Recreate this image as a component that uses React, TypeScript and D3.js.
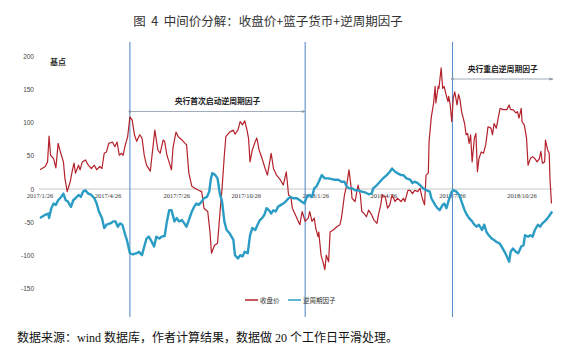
import * as d3 from 'd3';
import React, { useEffect, useRef } from 'react';

const width = 563;
const height = 353;

// days since 2017/1/26, basis points
const startDate = new Date(2017, 0, 26);

const closeSeries: [number, number][] = [
  [0, 29], [7, 34], [10, 41], [12, 80], [14, 51], [18, 46], [21, 32], [24, 69], [27, 56], [31, 41],
  [33, 16], [36, -4], [40, 11], [43, 29], [45, 39], [47, 24], [51, 36], [53, 29], [56, 41], [60, 44],
  [64, 36], [68, 31], [72, 36], [75, 29], [79, 34], [82, 31], [85, 54], [88, 56], [91, 69], [96, 71],
  [99, 64], [102, 71], [105, 51], [108, 54], [110, 51], [113, 67], [116, 79], [119, 109], [122, 104],
  [125, 82], [128, 72], [132, 82], [135, 77], [138, 51], [141, 36], [146, 27], [152, 89], [156, 59],
  [159, 54], [163, 74], [165, 72], [168, 51], [170, 44], [174, 29], [176, 62], [180, 86], [183, 79],
  [188, 74], [192, 69], [194, 67], [197, 24], [201, 4], [205, 1], [210, -2], [214, -4], [217, -29],
  [222, -34], [225, -65], [227, -97], [231, -85], [235, -82], [238, -39], [241, 1], [244, 51], [246, 79],
  [251, 86], [256, 89], [258, 83], [262, 89], [265, 102], [268, 97], [271, 103], [274, 89], [276, 77],
  [278, 41], [281, 59], [285, 72], [287, 77], [290, 59], [294, 46], [298, 31], [301, 21], [306, 54],
  [309, 31], [313, 21], [318, 14], [322, 6], [326, 26], [329, -9], [332, -12], [334, -29], [338, -39],
  [342, -49], [344, -54], [347, -34], [351, -49], [355, -44], [357, -34], [360, -49], [363, -44],
  [365, -59], [368, -72], [369, -65], [372, -100], [375, -112], [377, -122], [379, -100], [382, -110],
  [384, -65], [388, -62], [393, -57], [397, -54], [399, -44], [403, -9], [406, 6], [409, 29], [412, 1],
  [413, -14], [417, -19], [421, 6], [424, -9], [426, -34], [429, -37], [432, -42], [435, -32], [439, -39],
  [442, -47], [446, -52], [448, -39], [451, -24], [453, -9], [457, -12], [460, -29], [463, -24], [466, -9],
  [470, -19], [473, -14], [478, -19], [481, -14], [483, -19], [487, -2], [490, -2], [493, -7], [496, -2],
  [500, -4], [503, 1], [506, -14], [509, -24], [511, 21], [514, 24], [515, 72], [518, 109], [521, 130],
  [523, 155], [524, 130], [527, 155], [528, 152], [531, 183], [533, 152], [535, 155], [537, 145],
  [540, 132], [541, 140], [543, 127], [545, 102], [547, 137], [549, 147], [552, 127], [554, 143],
  [556, 135], [558, 117], [562, 99], [564, 82], [566, 84], [568, 69], [570, 82], [572, 41], [575, 77],
  [577, 84], [579, 26], [581, 46], [584, 56], [587, 54], [590, 67], [593, 94], [597, 92], [599, 82],
  [601, 99], [604, 92], [606, 104], [609, 122], [613, 120], [618, 120], [621, 127], [623, 120], [626, 120],
  [630, 115], [632, 117], [634, 107], [637, 122], [638, 102], [641, 97], [644, 77], [646, 36], [649, 46],
  [652, 49], [655, 46], [658, 41], [661, 46], [663, 57], [665, 39], [668, 41], [669, 74], [672, 59],
  [674, 54], [675, 16], [677, -22],
];

const counterSeries: [number, number][] = [
  [0, -44], [7, -39], [11, -37], [12, -44], [15, -29], [18, -22], [21, -24], [24, -17], [28, -12], [31, -7],
  [34, -17], [37, -19], [41, -27], [44, -17], [47, -14], [51, -9], [54, -12], [57, -4], [60, -2], [64, -7],
  [68, -9], [72, -14], [75, -22], [78, -34], [82, -44], [85, -59], [88, -54], [93, -52], [97, -49],
  [100, -49], [103, -57], [106, -52], [109, -54], [113, -70], [115, -77], [117, -87], [119, -97],
  [123, -99], [128, -97], [131, -95], [135, -100], [138, -87], [141, -75], [144, -72], [148, -80],
  [151, -87], [154, -72], [158, -75], [161, -72], [165, -71], [168, -49], [171, -32], [174, -32],
  [178, -49], [181, -44], [184, -49], [188, -47], [191, -52], [194, -57], [197, -47], [201, -34],
  [204, -27], [207, -22], [210, -24], [214, -19], [217, -14], [221, -12], [224, -4], [226, 14], [228, 24],
  [232, 21], [235, 16], [238, -7], [241, -19], [244, -49], [247, -62], [251, -67], [256, -77], [258, -100],
  [262, -105], [265, -100], [268, -102], [271, -95], [275, -97], [278, -70], [281, -59], [285, -62],
  [288, -54], [291, -47], [294, -44], [297, -39], [300, -29], [303, -32], [306, -37], [309, -32],
  [312, -34], [315, -27], [319, -24], [322, -22], [325, -19], [329, -14], [332, -12], [335, -14],
  [340, -14], [344, -17], [346, -19], [350, -22], [353, -12], [356, -9], [360, -12], [363, 1], [366, 4],
  [369, 11], [373, 21], [377, 16], [382, 16], [386, 15], [390, 14], [395, 14], [399, 11], [403, 11],
  [406, 4], [409, 1], [413, 1], [417, -2], [421, -2], [426, -4], [430, -5], [435, -8], [439, -7], [441, 1],
  [446, 6], [450, 11], [454, 16], [459, 21], [463, 26], [466, 31], [470, 26], [473, 24], [478, 21],
  [481, 21], [485, 16], [490, 14], [493, 9], [496, 11], [500, 9], [503, 6], [507, 1], [512, -2], [516, -4],
  [518, -14], [523, -24], [526, -29], [529, -32], [533, -24], [535, -22], [538, -29], [541, -17],
  [545, -4], [548, -2], [551, -4], [555, -9], [558, -19], [562, -32], [565, -39], [568, -44], [572, -49],
  [575, -54], [578, -57], [581, -54], [585, -62], [588, -54], [591, -65], [594, -70], [598, -75],
  [601, -77], [604, -80], [608, -82], [611, -87], [615, -95], [618, -102], [621, -110], [623, -95],
  [626, -90], [630, -95], [633, -97], [637, -87], [640, -85], [642, -70], [646, -72], [649, -70],
  [652, -72], [655, -62], [659, -54], [662, -57], [665, -52], [668, -49], [672, -44], [675, -39], [678, -34],
];

const xTickLabels = [
  '2017/1/26', '2017/4/26', '2017/7/26', '2017/10/26',
  '2018/1/26', '2018/4/26', '2018/7/26', '2018/10/26',
];
const yTickValues = [200, 150, 100, 50, 0, -50, -100, -150];

const eventDates = ['2017/5/25', '2018/1/12', '2018/7/26'];
const eventNotes = [
  { text: '央行首次启动逆周期因子', from: '2017/5/25', to: '2018/1/12' },
  { text: '央行重启逆周期因子', from: '2018/7/26', to: '2018/12/6' },
];

const seriesNames = ['收盘价', '逆周期因子'];
const seriesColors = ['#b5212b', '#2b9cc3'];

const parseDate = d3.timeParse('%Y/%m/%d');

function App() {
  const ref = useRef<SVGSVGElement>(null);

  useEffect(() => {
    const svg = d3.select(ref.current);
    svg.selectAll('*').remove();

    const x = d3
      .scaleTime()
      .domain([startDate, new Date(2018, 9, 26)])
      .range([40, 522]);
    const y = d3.scaleLinear().domain([-200, 200]).range([321.3, 56.7]);

    const dayDate = (d: number) => d3.timeDay.offset(startDate, d);

    svg.append('rect').attr('width', width).attr('height', height).attr('fill', '#fff');

    // title
    svg
      .append('text')
      .attr('x', 268)
      .attr('y', 26)
      .attr('text-anchor', 'middle')
      .attr('font-family', '"Noto Sans CJK SC", "Noto Sans", sans-serif')
      .attr('font-size', 12.5)
      .attr('fill', '#333')
      .style('white-space', 'pre')
      .text('图  4  中间价分解：收盘价+篮子货币+逆周期因子');

    // y tick labels
    svg
      .append('g')
      .selectAll('text')
      .data(yTickValues)
      .enter()
      .append('text')
      .attr('x', 34)
      .attr('y', (d) => y(d) + 2.5)
      .attr('text-anchor', 'end')
      .attr('font-family', '"Liberation Sans", sans-serif')
      .attr('font-size', 6.5)
      .attr('fill', '#444')
      .text((d) => d);

    svg
      .append('text')
      .attr('x', 50)
      .attr('y', 65)
      .attr('font-family', '"Noto Sans CJK SC", sans-serif')
      .attr('font-weight', 'bold')
      .attr('font-size', 8)
      .attr('fill', '#333')
      .text('基点');

    // zero axis
    svg
      .append('line')
      .attr('x1', 39)
      .attr('x2', 553)
      .attr('y1', y(0))
      .attr('y2', y(0))
      .attr('stroke', '#c6c6c6')
      .attr('stroke-width', 1);

    svg
      .append('g')
      .selectAll('text')
      .data(xTickLabels)
      .enter()
      .append('text')
      .attr('x', (d) => x(parseDate(d) as Date))
      .attr('y', y(0) + 8.5)
      .attr('text-anchor', 'middle')
      .attr('font-family', '"Liberation Serif", serif')
      .attr('font-size', 6.5)
      .attr('fill', '#333')
      .text((d) => d);

    // event lines
    svg
      .append('g')
      .selectAll('line')
      .data(eventDates)
      .enter()
      .append('line')
      .attr('x1', (d) => x(parseDate(d) as Date))
      .attr('x2', (d) => x(parseDate(d) as Date))
      .attr('y1', 42)
      .attr('y2', 317)
      .attr('stroke', '#5b8ec9')
      .attr('stroke-width', 1.1);

    const line = d3
      .line<[number, number]>()
      .x((d) => x(dayDate(d[0])))
      .y((d) => y(d[1]));

    [closeSeries, counterSeries].forEach((s, i) => {
      svg
        .append('path')
        .datum(s)
        .attr('d', line)
        .attr('fill', 'none')
        .attr('stroke', seriesColors[i])
        .attr('stroke-width', i === 0 ? 1.2 : 2.4)
        .attr('stroke-linejoin', 'round');
    });

    // annotations
    const defs = svg.append('defs');
    defs
      .append('marker')
      .attr('id', 'arr')
      .attr('viewBox', '0 0 10 10')
      .attr('refX', 9)
      .attr('refY', 5)
      .attr('markerWidth', 5)
      .attr('markerHeight', 5)
      .attr('orient', 'auto')
      .append('path')
      .attr('d', 'M0,1L10,5L0,9z')
      .attr('fill', '#8a97a8');

    const noteY = [111.5, 79];
    eventNotes.forEach((n, i) => {
      const x1 = x(parseDate(n.from) as Date);
      const x2 = x(parseDate(n.to) as Date);
      svg
        .append('line')
        .attr('x1', x1)
        .attr('x2', x2)
        .attr('y1', noteY[i])
        .attr('y2', noteY[i])
        .attr('stroke', '#8a97a8')
        .attr('stroke-width', 0.8)
        .attr('marker-end', 'url(#arr)');
      svg
        .append('circle')
        .attr('cx', x1)
        .attr('cy', noteY[i])
        .attr('r', 1.3)
        .attr('fill', '#8a97a8');
      svg
        .append('text')
        .attr('x', (x1 + x2) / 2)
        .attr('y', noteY[i] - 7.5)
        .attr('text-anchor', 'middle')
        .attr('font-family', '"Noto Sans CJK SC", sans-serif')
        .attr('font-weight', 'bold')
        .attr('font-size', 7.8)
        .attr('fill', '#222')
        .text(n.text);
    });

    // legend
    const legendX = [245, 288];
    seriesNames.forEach((name, i) => {
      svg
        .append('line')
        .attr('x1', legendX[i])
        .attr('x2', legendX[i] + 13)
        .attr('y1', 300)
        .attr('y2', 300)
        .attr('stroke', seriesColors[i])
        .attr('stroke-width', 1.5);
      svg
        .append('text')
        .attr('x', legendX[i] + 15)
        .attr('y', 302.5)
        .attr('font-family', '"Noto Sans CJK SC", sans-serif')
        .attr('font-size', 6.5)
        .attr('fill', '#333')
        .text(name);
    });

    // source note
    svg
      .append('text')
      .attr('x', 17)
      .attr('y', 342)
      .attr('font-family', '"Liberation Serif", "Noto Sans CJK SC", serif')
      .attr('font-size', 12)
      .attr('fill', '#111')
      .text('数据来源：wind 数据库，作者计算结果，数据做 20 个工作日平滑处理。');
  }, []);

  return (
    <svg
      ref={ref}
      width={width}
      height={height}
      viewBox={`0 0 ${width} ${height}`}
      style={{ position: 'absolute', left: 0, top: 0 }}
    ></svg>
  );
}

export default App;
